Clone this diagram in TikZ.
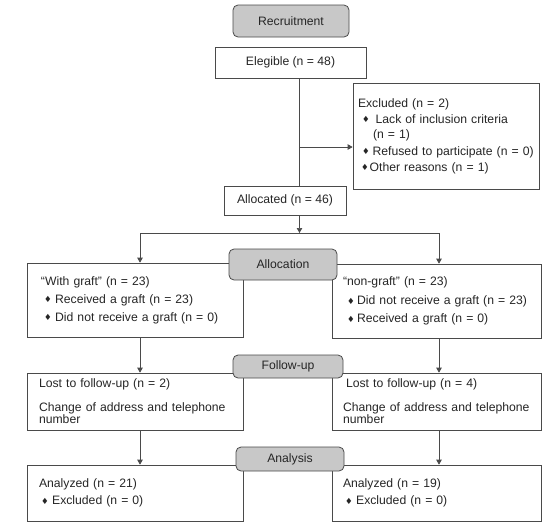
\documentclass[tikz,border=0pt]{standalone}
\usepackage{fontspec}
\setmainfont{Liberation Sans}
\newfontfamily\symfont{DejaVu Sans}
\usetikzlibrary{arrows.meta}
\newcommand\dmd{{\symfont\fontsize{8.5}{8.5}\selectfont\raisebox{0.4pt}{♦}}}
\definecolor{boxgray}{HTML}{C8C8C8}
\definecolor{linegray}{HTML}{4A4A4A}
\begin{document}
\begin{tikzpicture}[x=1pt,y=-1pt,
 box/.style={draw=linegray, line width=0.7pt, fill=white, font=\fontsize{12.2}{12}\selectfont, text=black!85, inner ysep=0pt},
 lbox/.style={box, align=left},
 stage/.style={draw=linegray, line width=0.8pt, fill=boxgray, rounded corners=5pt, font=\fontsize{12.2}{12}\selectfont, text=black!85, inner sep=0pt},
 conn/.style={draw=linegray, line width=0.7pt},
 arr/.style={conn, -{Triangle[width=5.5pt,length=5pt]}}]
\useasboundingbox (0,0) rectangle (555,531);
\fill[white] (0,0) rectangle (555,531);

% white boxes
\node[box, minimum width=151pt, minimum height=31pt] (eleg) at (290.5,62.5) {Elegible (n = 48)};
\node[lbox, minimum width=186pt, minimum height=106pt, text width=176pt, inner xsep=5pt] (excl) at (446,136)
 {Excluded (n = 2)\\[4pt]
  \mbox{\hspace*{4pt}\dmd\hspace{6pt}Lack of inclusion criteria}\\[3pt]
  \mbox{\hspace*{15pt}(n = 1)}\\[5pt]
  \mbox{\hspace*{4pt}\dmd\hspace{3pt}Refused to participate (n = 0)}\\[4pt]
  \mbox{\hspace*{3pt}\dmd\hspace{1pt}Other reasons (n = 1)}};
\node[box, minimum width=122pt, minimum height=29pt] (alloc) at (285,200.5) {Allocated (n = 46)};

\node[lbox, minimum width=216pt, minimum height=74pt, text width=188pt, inner xsep=14pt] (lg) at (135,300)
 {“With graft” (n = 23)\\[6pt]
  \mbox{\hspace*{3pt}\dmd\hspace{3.5pt}Received a graft (n = 23)}\\[6pt]
  \mbox{\hspace*{3pt}\dmd\hspace{3.5pt}Did not receive a graft (n = 0)}};
\node[lbox, minimum width=209pt, minimum height=74pt, text width=187pt, inner xsep=11pt] (rg) at (436.5,301)
 {“non-graft” (n = 23)\\[7pt]
  \mbox{\hspace*{4pt}\dmd\hspace{2.5pt}Did not receive a graft (n = 23)}\\[6.5pt]
  \mbox{\hspace*{4pt}\dmd\hspace{2.5pt}Received a graft (n = 0)}};

\node[lbox, minimum width=216pt, minimum height=57pt, text width=192pt, inner xsep=12pt] (lf) at (135,401.5)
 {Lost to follow-up (n = 2)\\[12pt]
  Change of address and telephone\\
  number};
\node[lbox, minimum width=209pt, minimum height=57pt, text width=187pt, inner xsep=11pt] (rf) at (436.5,401.5)
 {\mbox{\hspace*{3pt}Lost to follow-up (n = 4)}\\[12pt]
  Change of address and telephone\\
  number};

\node[lbox, minimum width=216pt, minimum height=56pt, text width=192pt, inner xsep=12pt] (la) at (135,493)
 {Analyzed (n = 21)\\[5pt]
  \mbox{\hspace*{2pt}\dmd\hspace{3.5pt}Excluded (n = 0)}};
\node[lbox, minimum width=209pt, minimum height=56pt, text width=187pt, inner xsep=11pt] (ra) at (436.5,493)
 {Analyzed (n = 19)\\[5pt]
  \mbox{\hspace*{2pt}\dmd\hspace{3.5pt}Excluded (n = 0)}};

% connectors
\coordinate (spine) at (299.5,0);
\coordinate (colL) at (140,0);
\coordinate (colR) at (439,0);
\coordinate (exarr) at (299.5,147);
\coordinate (split) at (299.5,233);
\draw[conn] (eleg.south -| spine) -- (alloc.north -| spine);
\draw[arr] (exarr) -- (exarr -| excl.west);
\draw[arr] (alloc.south -| spine) -- (split);
\draw[conn] (split -| colL) -- (split -| colR);
\draw[arr] (split -| colL) -- (lg.north -| colL);
\draw[arr] (split -| colR) -- (rg.north -| colR);
\draw[arr] (lg.south -| colL) -- (lf.north -| colL);
\draw[arr] (rg.south -| colR) -- (rf.north -| colR);
\draw[arr] (lf.south -| colL) -- (la.north -| colL);
\draw[arr] (rf.south -| colR) -- (ra.north -| colR);

% stage labels (on top)
\node[stage, minimum width=116pt, minimum height=32pt] (rec) at (291,21) {Recruitment};
\node[stage, minimum width=108pt, minimum height=31pt] (allocst) at (283,264.5) {Allocation};
\node[stage, minimum width=110pt, minimum height=23pt] (follow) at (288,366.5) {Follow-up};
\node[stage, minimum width=108pt, minimum height=24pt] (analysis) at (290,459) {Analysis};
\end{tikzpicture}
\end{document}
